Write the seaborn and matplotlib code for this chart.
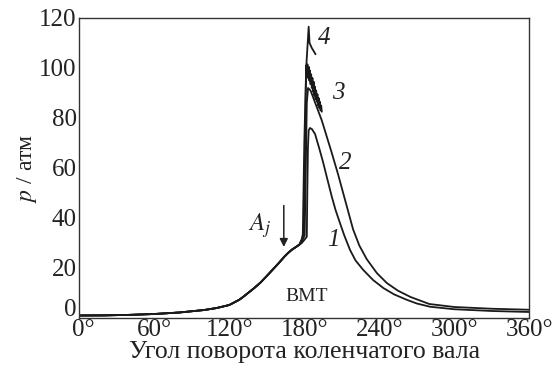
import numpy as np
import pandas as pd
import matplotlib
matplotlib.use("Agg")
import matplotlib.pyplot as plt
import matplotlib.transforms as mtransforms
import seaborn as sns

# ---- data ----
compression_angle = [0, 20, 40, 60, 80, 100, 110, 120, 128, 131, 135, 140, 145, 150, 155, 160,
                     164, 167, 170, 173, 176]
compression_p = [1.0, 1.05, 1.25, 1.6, 2.2, 3.2, 4.0, 5.2, 7.3, 8.4, 10.0, 12.0, 14.2, 16.8, 19.5,
                 22.2, 24.5, 26.0, 27.3, 28.3, 29.3]

c1_angle = [178, 180, 182, 182.4, 182.9, 183.5, 184.5, 186, 188.6, 192, 195.2, 198.5, 201.9, 205,
            208.6, 212, 216.6, 221, 227.2, 235, 243.2, 252, 261.9, 270, 280.6, 300, 330, 360]
c1_p = [30.0, 31.2, 32.5, 50, 68, 75.0, 76.0, 75.6, 73.6, 67.8, 62.0, 55.4, 48.7, 43.2,
        37.9, 33.0, 27.2, 23.0, 19.2, 15.2, 12.0, 9.4, 7.3, 5.8, 4.5, 3.5, 2.8, 2.4]

c2_angle = [178, 180.3, 181.2, 182, 183, 185, 188, 191, 194, 198, 202, 207, 213, 219, 224, 230,
            238, 246, 255, 265, 280, 300, 330, 360]
c2_p = [30.6, 33.0, 60, 86, 92, 91, 87, 83, 79, 72.5, 66, 57.5, 46.5, 35.5, 29, 23.5,
        18.0, 14.0, 10.9, 8.4, 5.6, 4.4, 3.7, 3.3]

c3_angle = [178, 179.6, 180.6, 181.5, 182, 182.5, 183, 183.5, 184, 184.5, 185, 185.5, 186,
            186.5, 187, 187.5, 188, 188.5, 189, 189.5, 190, 190.5, 191, 191.5, 192, 192.5, 193,
            193.5, 194]
c3_p = [31.2, 33.5, 70, 101, 97, 101.5, 96, 100.5, 95, 99, 93.5, 97.5, 92,
        96, 90.5, 94.5, 89, 92.5, 87.5, 91, 86.5, 89.5, 85, 88, 84, 86.5, 83,
        85, 82.5]

c4_angle = [178, 178.8, 180, 181.5, 183.5, 184.2, 186, 189]
c4_p = [31.6, 33.5, 70, 100, 116.5, 110, 108, 105.5]

x_ticks = [0, 60, 120, 180, 240, 300, 360]
x_tick_labels = ["0°", "60°", "120°", "180°", "240°", "300°", "360°"]
y_ticks = [0, 20, 40, 60, 80, 100, 120]

curve_names = ["1", "2", "3", "4"]
label_pos_angle = [203, 213, 207, 196]
label_pos_p = [31, 62, 90, 112]

# ---- build long table ----
frames = []
for name, a, p in zip(curve_names,
                      [c1_angle, c2_angle, c3_angle, c4_angle],
                      [c1_p, c2_p, c3_p, c4_p]):
    frames.append(pd.DataFrame({"angle": compression_angle + a,
                                "p": compression_p + p,
                                "curve": name}))
df = pd.concat(frames, ignore_index=True)

sns.set_theme(style="white")
plt.rcParams["font.family"] = ["Liberation Serif", "DejaVu Serif"]
plt.rcParams["mathtext.fontset"] = "stix"

fig = plt.figure(figsize=(5.56, 3.77), dpi=100)
ax = fig.add_axes([0.1426, 0.1565, 0.8094, 0.7958])

sns.lineplot(data=df, x="angle", y="p", units="curve", estimator=None, sort=False,
             color="#1a1a1a", linewidth=1.3, ax=ax, legend=False)

ax.set_xlim(0, 360)
ax.set_ylim(0, 120)
ax.set_xticks(x_ticks)
ax.set_xticklabels(x_tick_labels)
ax.set_yticks(y_ticks)
ax.tick_params(direction="in", length=8, width=1, colors="#222222",
               labelsize=18, labelcolor="#222222", pad=2)
ax.tick_params(axis="x", pad=1)
for s in ax.spines.values():
    s.set_color("#333333")
    s.set_linewidth(1.0)

# the "0" on the y axis sits a little higher, just above the "0°"
ylab0 = ax.get_yticklabels()[0]
ylab0.set_transform(ylab0.get_transform() +
                    mtransforms.ScaledTranslation(0, 7.5 / 72, fig.dpi_scale_trans))
xlab0 = ax.get_xticklabels()[0]
xlab0.set_transform(xlab0.get_transform() +
                    mtransforms.ScaledTranslation(3 / 72, 0, fig.dpi_scale_trans))

ax.set_xlabel("Угол поворота коленчатого вала", fontsize=18.5, color="#222222", labelpad=0)
ax.set_ylabel("$p$ / атм", fontsize=17, color="#222222", labelpad=0)

for name, xa, ya in zip(curve_names, label_pos_angle, label_pos_p):
    ax.text(xa, ya, name, fontsize=18, style="italic", color="#222222",
            ha="center", va="center")

ax.text(144, 37, "$A_j$", fontsize=18, color="#222222", ha="center", va="center")
ax.annotate("", xy=(163.6, 28.4), xytext=(163.6, 45),
            arrowprops=dict(arrowstyle="-|>", color="#222222", lw=1.1,
                            mutation_scale=12, shrinkA=0, shrinkB=0))
ax.text(182, 8.4, "ВМТ", fontsize=14, color="#222222", ha="center", va="center")

fig.savefig("out.png", dpi=100)
